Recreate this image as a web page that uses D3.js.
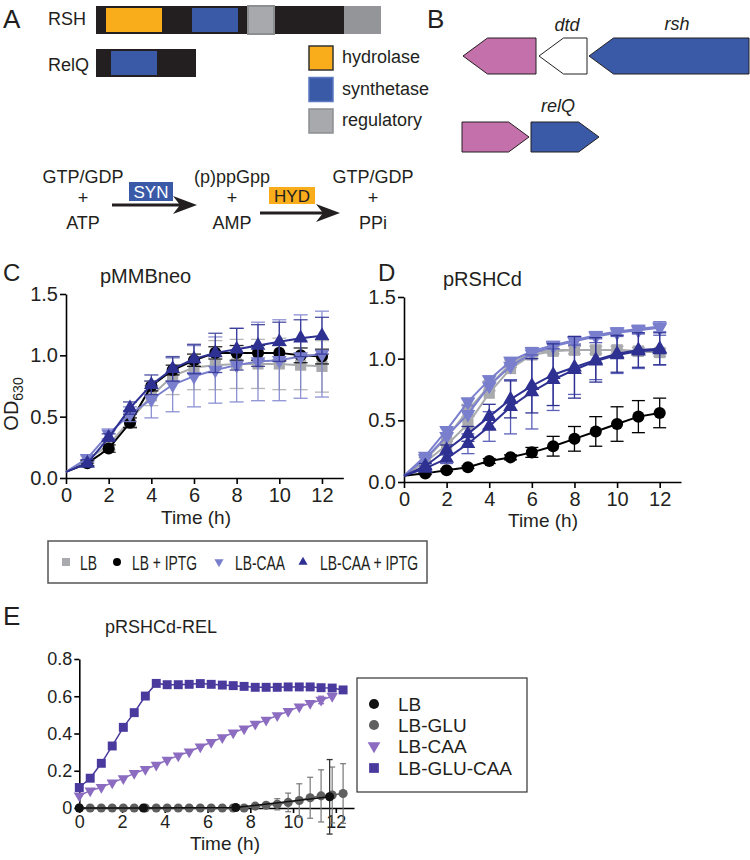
<!DOCTYPE html>
<html><head><meta charset="utf-8">
<script src="https://cdn.jsdelivr.net/npm/d3@7"></script>
<style>body{margin:0;background:#fff} text{font-family:"Liberation Sans",Arial,sans-serif;fill:#231f20}</style>
</head><body><svg id="fig" width="750" height="860"></svg>
<script>
// ---------- DATA ----------
// Panel A: domain architecture (arbitrary length units)
const rshLength = 285;
const rshDomains = [
  {type:"hydrolase", start:10, end:66},
  {type:"synthetase", start:96, end:142},
  {type:"regulatory", start:152, end:178},
  {type:"regulatory2", start:248, end:285}
];
const relqLength = 100;
const relqDomains = [{type:"synthetase", start:15, end:61}];
const domainLegend = ["hydrolase","synthetase","regulatory"];

// Panel B: gene neighbourhoods
const rshGenes = [
  {name:"", start:0, end:73, dir:-1, color:"pink"},
  {name:"dtd", start:76, end:124, dir:-1, color:"white"},
  {name:"rsh", start:126, end:286, dir:-1, color:"blue"}
];
const relqGenes = [
  {name:"", start:-1, end:66, dir:1, color:"pink"},
  {name:"relQ", start:68, end:136, dir:1, color:"blue"}
];

// Panels C & D (hours)
const hours = [0,1,2,3,4,5,6,7,8,9,10,11,12];
const cLB      = [0.05,0.15,0.27,0.47,0.67,0.83,0.90,0.92,0.93,0.93,0.93,0.92,0.91];
const cLBerr   = [0,0.03,0.04,0.05,0.08,0.15,0.18,0.20,0.20,0.20,0.21,0.20,0.21];
const cIPTG    = [0.05,0.12,0.24,0.45,0.75,0.88,0.96,1.02,1.02,1.02,1.02,1.00,0.99];
const cIPTGerr = [0,0.02,0.03,0.04,0.04,0.04,0.05,0.05,0.06,0.06,0.06,0.06,0.06];
const cCAA     = [0.05,0.16,0.36,0.52,0.64,0.76,0.83,0.88,0.92,0.95,0.96,0.99,1.01];
const cCAAerr  = [0,0.03,0.04,0.06,0.15,0.22,0.25,0.27,0.30,0.32,0.33,0.34,0.35];
const cCAAI    = [0.05,0.12,0.33,0.57,0.76,0.89,0.97,1.02,1.05,1.08,1.11,1.14,1.16];
const cCAAIerr = [0,0.03,0.03,0.05,0.08,0.10,0.12,0.16,0.17,0.17,0.16,0.15,0.15];

const dLB      = [0.05,0.18,0.36,0.58,0.78,0.96,1.05,1.07,1.07,1.07,1.07,1.06,1.05];
const dLB2     = [0.05,0.16,0.30,0.47,0.72,0.92,1.03,1.06,1.07,1.07,1.07,1.06,1.05];
const dLBerr   = [0,0.02,0.03,0.05,0.04,0.03,0.03,0.03,0.03,0.03,0.03,0.03,0.03];
const dIPTG    = [0.05,0.07,0.095,0.12,0.17,0.20,0.24,0.29,0.35,0.41,0.47,0.53,0.56];
const dIPTGerr = [0,0.01,0.01,0.01,0.02,0.02,0.04,0.08,0.10,0.12,0.14,0.13,0.12];
const dCAA     = [0.05,0.21,0.42,0.65,0.83,0.98,1.06,1.11,1.15,1.19,1.22,1.24,1.26];
const dCAA2    = [0.05,0.19,0.37,0.55,0.78,0.94,1.04,1.10,1.14,1.18,1.21,1.23,1.25];
const dCAAerr  = [0,0.01,0.02,0.03,0.03,0.03,0.03,0.03,0.03,0.03,0.03,0.03,0.04];
const dCAAI    = [0.05,0.13,0.26,0.39,0.53,0.67,0.78,0.87,0.93,0.99,1.04,1.07,1.08];
const dCAAI2   = [0.05,0.11,0.19,0.31,0.45,0.61,0.73,0.83,0.91,0.98,1.03,1.06,1.07];
const dCAAIerr = [0,0.02,0.04,0.06,0.10,0.15,0.22,0.25,0.25,0.18,0.15,0.14,0.13];
const dCAAI2err= [0,0.02,0.04,0.08,0.12,0.22,0.30,0.25,0.20,0.15,0.15,0.14,0.12];

const cdLegend = ["LB","LB + IPTG","LB-CAA","LB-CAA + IPTG"];
const cdYTicks = [0,0.5,1.0,1.5];
const cdXTicks = [0,2,4,6,8,10,12];

// Panel E
const tE = [0,0.51,1.03,1.54,2.06,2.57,3.09,3.6,4.11,4.63,5.14,5.66,6.17,6.69,7.2,7.71,8.23,8.74,9.26,9.77,10.29,10.8,11.31,11.83,12.34];
const eGLUCAA = [0.11,0.16,0.24,0.333,0.433,0.512,0.601,0.669,0.662,0.662,0.664,0.668,0.664,0.66,0.657,0.653,0.648,0.648,0.648,0.65,0.65,0.65,0.646,0.644,0.634];
const eCAA = [0.066,0.093,0.111,0.136,0.159,0.186,0.208,0.231,0.258,0.281,0.302,0.329,0.353,0.379,0.404,0.426,0.451,0.472,0.497,0.519,0.544,0.562,0.58,0.60];
const eCAAerr = [0,0,0,0,0,0,0,0,0,0,0,0,0,0,0,0,0,0,0,0,0,0,0.02,0];
const eGLU = [0,0,0,0,0,0,0,0,0,0,0,0,0,0,0,0,0.01,0.015,0.02,0.03,0.04,0.055,0.065,0.07,0.078];
const eGLUerr = [0,0,0,0,0,0,0,0,0,0,0,0,0,0,0,0,0.005,0.01,0.03,0.05,0.09,0.11,0.14,0.15,0.16];
const tLB = [0,3.0,7.32,11.71];
const eLB = [0,0,0.003,0.06];
const eLBerr = [0,0,0,0.2];
const eLegend = ["LB","LB-GLU","LB-CAA","LB-GLU-CAA"];
const eYTicks = [0,0.2,0.4,0.6,0.8];
const eXTicks = [0,2,4,6,8,10,12];

// ---------- STYLE ----------
const COL = {orange:"#f9ad1b", blue:"#3a5aa8", lgray:"#a7a9ac", dgray:"#939598",
  black:"#231f20", pink:"#c471ab", white:"#ffffff",
  sGray:"#a9aaad", sBlack:"#000000", sLight:"#7a7fcd", sDark:"#2e3192",
  eSq:"#4b3a9e", eTri:"#8b6cc0", eGray:"#5f5f5f", eBlack:"#111111"};

const svg = d3.select("#fig");
svg.append("rect").attr("width",750).attr("height",860).attr("fill","#fff");

function label(t,x,y,size,opt={}){
  const s = svg.append("text").attr("x",x).attr("y",y).attr("font-size",size).text(t);
  if(opt.anchor) s.attr("text-anchor",opt.anchor);
  if(opt.italic) s.attr("font-style","italic");
  if(opt.fill) s.style("fill",opt.fill);
  return s;
}

// ---------- PANEL A ----------
label("A",3,28,26);
label("RSH",48,25,18);
label("RelQ",48,71,18);
const ax = d3.scaleLinear().domain([0,rshLength]).range([96,381]);
const domColor = {hydrolase:COL.orange, synthetase:COL.blue, regulatory:COL.lgray, regulatory2:COL.dgray};
svg.append("rect").attr("x",ax(0)).attr("y",6).attr("width",ax(rshLength)-ax(0)).attr("height",28).attr("fill",COL.black);
svg.selectAll(".rshdom").data(rshDomains).join("rect")
  .attr("x",d=>ax(d.start)).attr("width",d=>ax(d.end)-ax(d.start))
  .attr("y",d=>d.type.startsWith("regulatory")?6:8)
  .attr("height",d=>d.type.startsWith("regulatory")?28:24)
  .attr("fill",d=>domColor[d.type])
  .attr("stroke",d=>d.type==="regulatory"?"#8c8e91":"none").attr("stroke-width",2);
svg.append("rect").attr("x",ax(0)).attr("y",49).attr("width",ax(relqLength)-ax(0)).attr("height",28).attr("fill",COL.black);
svg.selectAll(".relqdom").data(relqDomains).join("rect")
  .attr("x",d=>ax(d.start)).attr("width",d=>ax(d.end)-ax(d.start))
  .attr("y",51).attr("height",24).attr("fill",d=>domColor[d.type]);
const legStroke = {hydrolase:"#333", synthetase:"#5b78c0", regulatory:"#8c8e91"};
domainLegend.forEach((t,i)=>{
  const y0 = 46 + i*31.5;
  svg.append("rect").attr("x",309).attr("y",y0).attr("width",24).attr("height",24)
    .attr("fill",domColor[t]).attr("stroke",legStroke[t]).attr("stroke-width",1.5);
  label(t,342,y0+17,18);
});
// reaction scheme
[["GTP/GDP",83],["(p)ppGpp",232],["GTP/GDP",373]].forEach(d=>label(d[0],d[1],183,18,{anchor:"middle"}));
[83,232,373].forEach(x=>label("+",x,204,18,{anchor:"middle"}));
[["ATP",83],["AMP",232],["PPi",373]].forEach(d=>label(d[0],d[1],229,18,{anchor:"middle"}));
function arrow(x1,x2,y){
  svg.append("line").attr("x1",x1).attr("x2",x2-12).attr("y1",y).attr("y2",y).attr("stroke",COL.black).attr("stroke-width",3);
  svg.append("path").attr("d",`M${x2},${y} L${x2-24},${y-9} L${x2-17},${y} L${x2-24},${y+9} Z`).attr("fill",COL.black);
}
arrow(112,197,205);
arrow(260,340,213);
svg.append("rect").attr("x",129).attr("y",182).attr("width",44).attr("height",19).attr("fill",COL.blue);
label("SYN",151,198,17,{anchor:"middle",fill:"#fff"});
svg.append("rect").attr("x",269).attr("y",187).attr("width",46).attr("height",17).attr("fill",COL.orange);
label("HYD",292,202,17,{anchor:"middle"});

// ---------- PANEL B ----------
label("B",427,28,26);
const bx = d3.scaleLinear().domain([0,286]).range([463,749]);
function gene(g,y0,h){
  const x0 = bx(g.start), x1 = bx(g.end), head = h*0.68, ym = y0+h/2;
  let p;
  if(g.dir<0) p = `M${x0},${ym} L${x0+head},${y0} L${x1},${y0} L${x1},${y0+h} L${x0+head},${y0+h} Z`;
  else p = `M${x0},${y0} L${x1-head},${y0} L${x1},${ym} L${x1-head},${y0+h} L${x0},${y0+h} Z`;
  svg.append("path").attr("d",p).attr("fill",COL[g.color]).attr("stroke",COL.black).attr("stroke-width",1);
}
rshGenes.forEach(g=>gene(g,38,36));
relqGenes.forEach(g=>gene(g,122,30));
label("dtd",567,31,18,{anchor:"middle",italic:true});
label("rsh",677,30,18,{anchor:"middle",italic:true});
label("relQ",558,112,18,{anchor:"middle",italic:true});

// ---------- helpers for plots ----------
function drawSeries(g,x,y,xs,ys,errs,o){
  const pts = xs.map((t,i)=>({t,v:ys[i],e:errs?errs[i]:0}));
  const eg = g.append("g").attr("stroke",o.errColor||o.color).attr("stroke-width",o.errWidth||1.3).attr("opacity",o.errOpacity||1);
  pts.filter(d=>d.e>0).forEach(d=>{
    const cx=x(d.t), cw=o.cap/2;
    eg.append("line").attr("x1",cx).attr("x2",cx).attr("y1",y(d.v-d.e)).attr("y2",y(d.v+d.e));
    eg.append("line").attr("x1",cx-cw).attr("x2",cx+cw).attr("y1",y(d.v-d.e)).attr("y2",y(d.v-d.e));
    eg.append("line").attr("x1",cx-cw).attr("x2",cx+cw).attr("y1",y(d.v+d.e)).attr("y2",y(d.v+d.e));
  });
  g.append("path").datum(pts).attr("fill","none").attr("stroke",o.color).attr("stroke-width",o.lw)
    .attr("d",d3.line().x(d=>x(d.t)).y(d=>y(d.v)));
  const sym = d3.symbol().type(o.shape).size(o.size);
  g.append("g").selectAll("path").data(pts.filter(d=>!(o.skipZero && d.t===0))).join("path")
    .attr("d",sym).attr("fill",o.color)
    .attr("transform",d=>`translate(${x(d.t)},${y(d.v)})${o.down?" rotate(180)":""}`);
}
function styleAxis(g,fs){
  g.selectAll("path.domain").attr("stroke","#000").attr("stroke-width",1.6);
  g.selectAll(".tick line").attr("stroke","#000").attr("stroke-width",1.6);
  g.selectAll(".tick text").attr("font-size",fs).attr("font-family","Liberation Sans, Arial, sans-serif").attr("fill","#231f20");
}
const TRI = 95, CIR = 115, SQ = 125;
const seriesStyle = [
  {color:COL.sGray, shape:d3.symbolSquare, size:SQ},
  {color:COL.sBlack, shape:d3.symbolCircle, size:CIR},
  {color:COL.sLight, shape:d3.symbolTriangle, size:TRI, down:true},
  {color:COL.sDark, shape:d3.symbolTriangle, size:TRI}
];

function growthPanel(x0,yTop,yBot,xEnd){
  const x = d3.scaleLinear().domain([0,13]).range([x0,xEnd]);
  const y = d3.scaleLinear().domain([0,1.5]).range([yBot,yTop]);
  const gx = svg.append("g").attr("transform",`translate(0,${yBot})`)
    .call(d3.axisBottom(x).tickValues(cdXTicks).tickSize(6).tickSizeOuter(0).tickPadding(4).tickFormat(d3.format("d")));
  styleAxis(gx,20);
  const gy = svg.append("g").attr("transform",`translate(${x0},0)`)
    .call(d3.axisLeft(y).tickValues(cdYTicks).tickSize(6).tickSizeOuter(0).tickPadding(2).tickFormat(d3.format(".1f")));
  styleAxis(gy,20);
  return {x,y,g:svg.append("g")};
}

// ---------- PANEL C ----------
label("C",3,281,24);
label("pMMBneo",100,283,20);
const C = growthPanel(66,294,478,343.3);
const cData = [[cLB,cLBerr],[cIPTG,cIPTGerr],[cCAA,cCAAerr],[cCAAI,cCAAIerr]];
cData.forEach((d,i)=>{
  const s = seriesStyle[i];
  drawSeries(C.g,C.x,C.y,hours,d[0],d[1],Object.assign({},s,{lw:2,cap:14,skipZero:true,errOpacity:0.85}));
});
label("Time (h)",196,524,19,{anchor:"middle"});
const od = svg.append("text").attr("transform","translate(18,404) rotate(-90)").attr("text-anchor","middle").attr("font-size",20);
od.append("tspan").text("OD");
od.append("tspan").attr("font-size",14).attr("dy",5).text("630");

// ---------- PANEL D ----------
label("D",378,281,24);
label("pRSHCd",443,286,20);
const D = growthPanel(404,297,482,681);
drawSeries(D.g,D.x,D.y,hours,dLB2,null,Object.assign({},seriesStyle[0],{lw:2,cap:13,skipZero:true}));
drawSeries(D.g,D.x,D.y,hours,dLB,dLBerr,Object.assign({},seriesStyle[0],{lw:2,cap:13,skipZero:true}));
drawSeries(D.g,D.x,D.y,hours,dIPTG,dIPTGerr,Object.assign({},seriesStyle[1],{lw:2,cap:13,skipZero:true}));
drawSeries(D.g,D.x,D.y,hours,dCAA2,null,Object.assign({},seriesStyle[2],{lw:2,cap:13,skipZero:true}));
drawSeries(D.g,D.x,D.y,hours,dCAA,dCAAerr,Object.assign({},seriesStyle[2],{lw:2,cap:13,skipZero:true}));
drawSeries(D.g,D.x,D.y,hours,dCAAI2,dCAAI2err,Object.assign({},seriesStyle[3],{lw:2,cap:13,skipZero:true,errColor:"#5b60b8"}));
drawSeries(D.g,D.x,D.y,hours,dCAAI,dCAAIerr,Object.assign({},seriesStyle[3],{lw:2,cap:13,skipZero:true}));
label("Time (h)",543,527,19,{anchor:"middle"});

// ---------- C/D LEGEND ----------
svg.append("rect").attr("x",48).attr("y",541).attr("width",379).attr("height",42).attr("fill","none").attr("stroke","#555").attr("stroke-width",1.5);
const legX = [[66,80,17],[117,132,65],[219,235,50],[303,320,98]];
cdLegend.forEach((t,i)=>{
  const s = seriesStyle[i];
  const sym = d3.symbol().type(s.shape).size(i===0?64:(i===1?50:36));
  svg.append("path").attr("d",sym).attr("fill",s.color)
    .attr("transform",`translate(${legX[i][0]},${562})${s.down?" rotate(180)":""}`);
  label(t,legX[i][1],570,20).attr("textLength",legX[i][2]).attr("lengthAdjust","spacingAndGlyphs");
});

// ---------- PANEL E ----------
label("E",3,625,26);
label("pRSHCd-REL",105,633,18);
const ex = d3.scaleLinear().domain([0,12.85]).range([79.3,354]);
const ey = d3.scaleLinear().domain([0,0.8]).range([808,659]);
const egx = svg.append("g").attr("transform",`translate(0,${ey(0)})`)
  .call(d3.axisBottom(ex).tickValues(eXTicks).tickSize(5).tickSizeOuter(0).tickPadding(2).tickFormat(d3.format("d")));
styleAxis(egx,18);
const egy = svg.append("g").attr("transform",`translate(${ex(0)},0)`)
  .call(d3.axisLeft(ey).tickValues(eYTicks).tickSize(5).tickSizeOuter(0).tickPadding(2).tickFormat(d=>d===0?"0":d3.format(".1f")(d)));
styleAxis(egy,18);
const Eg = svg.append("g");
drawSeries(Eg,ex,ey,tE,eGLU,eGLUerr,{color:COL.eGray,shape:d3.symbolCircle,size:65,lw:1.5,cap:6,errColor:"#777",errWidth:1.2});
drawSeries(Eg,ex,ey,tE.slice(0,eCAA.length),eCAA,eCAAerr,{color:COL.eTri,shape:d3.symbolTriangle,size:55,down:true,lw:1.5,cap:6});
drawSeries(Eg,ex,ey,tE,eGLUCAA,null,{color:COL.eSq,shape:d3.symbolSquare,size:80,lw:1.5,cap:6});
drawSeries(Eg,ex,ey,tLB,eLB,eLBerr,{color:COL.eBlack,shape:d3.symbolCircle,size:65,lw:1.5,cap:6,errColor:"#333"});
label("Time (h)",225,850,19,{anchor:"middle"});
// E legend
svg.append("rect").attr("x",357).attr("y",678).attr("width",170).attr("height",114).attr("fill","#fff").attr("stroke","#333").attr("stroke-width",1.2);
const eLegStyle = [
  {color:COL.eBlack,shape:d3.symbolCircle,size:80},
  {color:COL.eGray,shape:d3.symbolCircle,size:80},
  {color:COL.eTri,shape:d3.symbolTriangle,size:70,down:true},
  {color:COL.eSq,shape:d3.symbolSquare,size:95}
];
const eLegY = [704,725,746,768];
eLegend.forEach((t,i)=>{
  const s = eLegStyle[i];
  svg.append("path").attr("d",d3.symbol().type(s.shape).size(s.size)).attr("fill",s.color)
    .attr("transform",`translate(374,${eLegY[i]})${s.down?" rotate(180)":""}`);
  label(t,398,eLegY[i]+7,19);
});
</script></body></html>
